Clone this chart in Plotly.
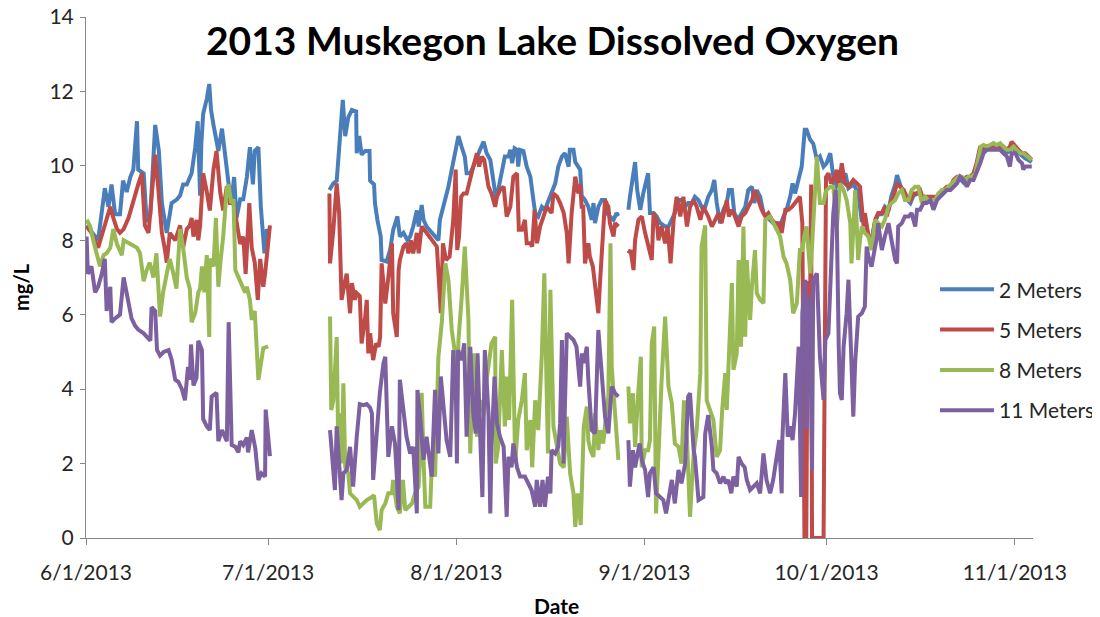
"""2013 Muskegon Lake dissolved oxygen at four depths (Excel-style line chart)."""

import pandas as pd
import plotly.graph_objects as go

START = pd.Timestamp("2013-06-01")
END = pd.Timestamp("2013-11-04")

# readings as (days after 6/1/2013, mg/L); the buoy record has three deployments
m2_jun = [
    (0.1, 8.4), (2.0, 8.0), (3.1, 9.4), (3.7, 8.9), (4.2, 9.5), (4.8, 8.7), (5.6, 8.7),
    (6.1, 9.6), (6.7, 9.3), (7.3, 9.7), (7.8, 9.9), (8.4, 11.2), (8.6, 9.9), (9.5, 9.8),
    (10.0, 8.5), (10.6, 8.7), (11.4, 11.1), (12.0, 10.4), (12.5, 9.0), (13.3, 8.2),
    (14.1, 9.0), (15.0, 9.1), (15.5, 9.2), (16.0, 9.5), (16.6, 9.5), (17.4, 9.8),
    (18.0, 10.5), (18.4, 11.2), (18.8, 9.2), (19.0, 10.6), (19.3, 11.4), (19.9, 11.8),
    (20.3, 12.2), (20.6, 11.5), (21.0, 11.1), (21.5, 10.6), (21.8, 10.4), (22.4, 11.0),
    (22.9, 10.2), (23.5, 9.5), (24.0, 9.1), (24.4, 9.7), (24.8, 8.6), (25.4, 9.1),
    (25.9, 9.1), (26.5, 9.7), (27.0, 10.5), (27.5, 9.5), (27.8, 10.4), (28.4, 10.5),
    (28.8, 8.9), (29.4, 7.65), (29.8, 8.3), (30.0, 8.2),
]
m2_jul = [
    (40.1, 9.35), (40.75, 9.53), (41.3, 9.6), (41.85, 10.97), (42.3, 11.77), (42.7, 10.8),
    (43.2, 11.3), (43.8, 11.5), (44.5, 11.46), (44.6, 10.34), (45.0, 10.8), (45.4, 10.3),
    (46.0, 10.4), (46.7, 10.4), (46.8, 9.6), (47.45, 9.5), (47.6, 9.0), (48.0, 8.55),
    (48.55, 8.1), (48.7, 7.47), (49.5, 7.43), (50.1, 7.74), (50.6, 8.28), (51.3, 8.64),
    (51.7, 8.1), (52.3, 8.2), (52.95, 8.0), (53.4, 8.1), (53.9, 8.37), (54.5, 8.8),
    (54.8, 8.37), (55.3, 8.95), (55.6, 8.55), (56.1, 8.37), (56.95, 8.2), (57.5, 8.1),
    (58.05, 8.0), (58.3, 8.55), (59.2, 9.1), (59.7, 9.44), (60.25, 9.9), (60.8, 10.34),
    (61.35, 10.8), (61.9, 10.5), (62.4, 10.25), (62.7, 9.8), (63.3, 9.8), (63.8, 9.98),
    (64.4, 10.25), (64.9, 10.43), (65.5, 10.65), (66.0, 10.34), (66.6, 10.16), (67.1, 9.53),
    (67.5, 9.17), (67.9, 9.35), (68.5, 9.8), (69.0, 10.25), (69.6, 10.25), (69.9, 10.43),
    (70.2, 10.07), (70.6, 10.47), (71.0, 10.43), (71.2, 9.98), (71.5, 10.43), (72.05, 10.4),
    (72.6, 9.98), (73.2, 9.71), (73.7, 9.08), (74.0, 8.73), (74.5, 8.64), (75.1, 8.9),
    (75.6, 8.82), (76.2, 9.08), (76.7, 9.26), (77.3, 9.53), (77.8, 9.98), (78.4, 10.25),
    (78.9, 10.34), (79.5, 9.98), (79.7, 10.43), (80.3, 10.43), (80.6, 10.1), (81.1, 9.98),
    (81.4, 9.9), (81.65, 9.2), (82.2, 9.08), (82.75, 8.9), (83.3, 8.55), (83.6, 9.0),
    (83.85, 8.46), (84.4, 8.9), (84.95, 9.08), (85.5, 9.08), (85.8, 8.73), (86.3, 8.64),
    (86.9, 8.55), (87.4, 8.73), (87.7, 8.65),
]
m2_sep = [
    (89.35, 8.82), (89.6, 9.17), (90.45, 10.1), (90.8, 9.35), (91.3, 8.82), (91.8, 9.26),
    (92.6, 9.8), (92.9, 8.73), (93.5, 8.73), (94.0, 8.64), (94.6, 8.46), (95.4, 8.37),
    (95.95, 8.37), (96.5, 8.55), (97.0, 8.73), (97.6, 9.08), (98.1, 9.08), (98.7, 8.9),
    (99.2, 9.0), (99.8, 9.0), (100.3, 9.17), (100.9, 9.08), (101.4, 8.9), (102.0, 8.9),
    (102.5, 9.17), (103.1, 9.35), (103.5, 9.62), (103.9, 9.0), (104.45, 8.46), (105.0, 8.82),
    (105.55, 9.0), (105.9, 9.35), (106.4, 9.35), (106.8, 8.73), (107.4, 8.55), (108.0, 8.73),
    (108.6, 8.9), (109.1, 9.35), (109.7, 9.44), (110.1, 9.0), (110.5, 9.35), (111.05, 9.17),
    (111.6, 8.73), (112.1, 8.64), (112.7, 8.55), (113.2, 8.46), (113.8, 8.46), (114.3, 8.37),
    (114.9, 8.64), (115.4, 8.82), (116.0, 9.17), (116.4, 9.53), (116.8, 9.26), (117.4, 9.62),
    (117.9, 9.98), (118.4, 10.97), (118.7, 10.97), (119.3, 10.7), (119.8, 10.6), (120.4, 10.16),
    (120.9, 10.25), (121.5, 9.98), (122.0, 10.07), (122.6, 10.34), (122.9, 9.98), (123.4, 9.35),
    (124.0, 9.71), (124.5, 9.53), (125.1, 9.8), (125.6, 9.4), (126.4, 9.5), (127.2, 9.3),
    (127.8, 8.5), (128.3, 8.6), (128.9, 8.1), (129.4, 7.95), (130.0, 8.5), (130.5, 8.7),
    (131.1, 8.7), (131.6, 8.9), (132.2, 8.8), (132.7, 9.2), (133.3, 9.5), (133.6, 9.75),
    (134.1, 9.5), (134.7, 9.3), (135.2, 9.1), (135.8, 9.0), (136.3, 9.2), (136.9, 9.25),
    (137.4, 9.3), (137.96, 9.0), (138.5, 9.1), (139.1, 9.05), (139.6, 9.05), (140.2, 9.1),
    (140.7, 9.2), (141.3, 9.3), (141.8, 9.4), (142.4, 9.4), (142.9, 9.55), (143.5, 9.65),
    (144.0, 9.65), (144.55, 9.55), (145.1, 9.65), (145.65, 9.65), (146.2, 9.75), (146.7, 10.0),
    (147.3, 10.45), (147.85, 10.4), (148.4, 10.45), (148.9, 10.45), (149.5, 10.5), (150.0, 10.45),
    (150.6, 10.45), (151.1, 10.45), (151.7, 10.35), (152.2, 10.4), (152.5, 10.55), (153.1, 10.4),
    (153.6, 10.35), (154.2, 10.25), (154.7, 10.2), (155.3, 10.15), (155.8, 10.1),
]

m5_jun = [
    (0.1, 8.37), (0.9, 8.2), (2.0, 7.8), (3.1, 8.4), (4.0, 8.9), (4.5, 8.6), (5.1, 8.3),
    (5.6, 8.2), (6.2, 8.3), (7.0, 8.6), (7.8, 9.1), (8.6, 9.5), (9.2, 9.8), (9.7, 8.4),
    (10.3, 8.2), (10.8, 9.1), (11.4, 10.3), (11.9, 9.4), (12.5, 8.2), (13.0, 7.75),
    (13.3, 7.4), (13.8, 8.2), (14.7, 8.0), (15.5, 8.4), (16.0, 7.8), (16.6, 8.3), (17.1, 8.4),
    (17.4, 8.6), (17.7, 8.1), (18.2, 8.55), (18.5, 8.0), (18.8, 8.4), (19.3, 9.8), (19.9, 9.3),
    (20.4, 8.8), (21.0, 9.9), (21.5, 10.4), (22.1, 9.3), (22.6, 8.8), (23.2, 9.45), (23.7, 9.0),
    (24.3, 9.0), (24.8, 8.55), (25.4, 7.9), (25.9, 8.1), (26.3, 7.1), (26.9, 9.0), (27.3, 7.8),
    (27.8, 7.4), (28.3, 6.4), (28.7, 7.5), (29.2, 6.75), (29.5, 7.1), (29.8, 7.65), (30.3, 8.4),
]
m5_jul = [
    (40.1, 9.26), (40.2, 7.38), (40.75, 8.28), (41.3, 9.53), (41.7, 8.73), (42.1, 6.4),
    (42.7, 6.93), (42.95, 7.1), (43.5, 6.04), (43.8, 6.85), (44.3, 6.4), (44.6, 6.58),
    (45.1, 6.5), (45.4, 5.23), (46.0, 5.95), (46.25, 6.4), (46.5, 4.96), (46.8, 5.5),
    (47.3, 4.78), (47.8, 5.23), (48.2, 5.14), (48.45, 5.4), (48.7, 7.38), (49.3, 6.3),
    (49.8, 7.0), (50.4, 7.92), (50.6, 6.04), (51.2, 5.4), (51.5, 7.2), (51.7, 7.47),
    (52.3, 7.83), (52.8, 7.92), (53.1, 7.65), (53.5, 8.0), (53.9, 7.65), (54.5, 8.2),
    (54.8, 7.65), (55.3, 8.37), (56.1, 8.2), (56.95, 8.0), (57.8, 7.83), (58.45, 6.04),
    (58.8, 7.92), (59.3, 7.47), (59.9, 7.56), (60.5, 8.55), (60.9, 9.9), (61.15, 7.74),
    (61.45, 8.1), (61.8, 9.17), (62.2, 9.26), (62.7, 9.26), (63.3, 9.6), (63.8, 9.98),
    (64.4, 10.34), (64.75, 9.98), (65.2, 10.25), (65.6, 10.16), (66.3, 9.44), (66.8, 9.26),
    (67.4, 8.9), (67.7, 9.17), (68.2, 9.35), (68.8, 9.44), (69.3, 8.64), (69.9, 8.9),
    (70.4, 9.71), (71.0, 9.8), (71.3, 8.28), (71.8, 8.28), (72.3, 8.55), (72.6, 7.92),
    (73.2, 7.92), (73.5, 7.83), (73.9, 8.82), (74.3, 7.92), (74.8, 8.37), (75.4, 8.64),
    (75.9, 8.9), (76.7, 8.73), (77.0, 9.26), (77.6, 9.17), (78.1, 9.0), (78.7, 8.73),
    (79.2, 8.2), (79.5, 7.38), (80.0, 8.73), (80.6, 9.71), (81.1, 9.26), (81.4, 9.5),
    (81.65, 8.9), (81.9, 8.9), (82.2, 7.38), (82.75, 7.92), (83.0, 7.56), (83.5, 7.29),
    (84.0, 6.58), (84.4, 6.04), (84.7, 6.93), (85.2, 8.55), (85.5, 9.08), (86.05, 8.9),
    (86.3, 8.46), (86.9, 8.1), (87.15, 8.46), (87.7, 8.37),
]
m5_sep = [
    (89.35, 7.65), (89.7, 7.74), (90.2, 7.2), (90.45, 8.0), (91.0, 8.55), (91.55, 8.64),
    (92.1, 8.2), (92.6, 7.83), (93.2, 7.47), (93.5, 8.73), (94.0, 8.55), (94.3, 8.0),
    (94.8, 8.37), (95.4, 7.92), (95.8, 8.37), (96.3, 7.38), (96.8, 8.55), (97.3, 9.17),
    (97.9, 8.64), (98.4, 9.17), (99.0, 8.37), (99.5, 8.9), (100.1, 9.08), (100.6, 8.9),
    (101.2, 8.55), (101.7, 8.9), (102.3, 8.73), (102.5, 8.64), (103.1, 8.37), (103.6, 8.55),
    (104.2, 8.73), (104.7, 8.46), (105.3, 8.9), (105.55, 9.08), (105.9, 8.64), (106.4, 8.82),
    (106.9, 8.64), (107.5, 8.37), (108.0, 8.64), (108.6, 8.73), (109.1, 8.9), (109.7, 9.08),
    (110.2, 9.35), (110.8, 9.08), (111.3, 8.82), (111.9, 8.64), (112.4, 8.73), (113.0, 8.55),
    (113.5, 8.46), (114.1, 8.46), (114.6, 8.2), (115.2, 8.82), (115.7, 8.82), (116.3, 8.9),
    (116.8, 9.0), (117.6, 9.17), (118.0, 8.46), (118.35, 0.0), (118.65, 0.0), (118.9, 6.9),
    (119.3, 6.6), (119.45, 9.5), (119.6, 0.0), (121.5, 0.0), (121.9, 9.7), (122.3, 9.8),
    (122.75, 9.53), (123.1, 9.62), (123.7, 9.89), (124.0, 9.44), (124.5, 10.07), (124.8, 9.7),
    (125.0, 9.53), (125.6, 9.44), (126.4, 9.62), (127.0, 9.53), (127.5, 9.44), (128.1, 8.37),
    (128.3, 8.73), (128.9, 8.1), (129.4, 8.0), (130.0, 8.55), (130.5, 8.73), (131.1, 8.73),
    (131.6, 8.9), (131.9, 8.64), (132.5, 9.0), (133.0, 9.17), (133.6, 9.53), (134.1, 9.44),
    (134.7, 9.35), (135.2, 9.17), (135.8, 9.08), (136.3, 9.26), (136.9, 9.26), (137.4, 9.35),
    (137.96, 9.08), (138.5, 9.17), (139.1, 9.17), (139.6, 9.17), (140.2, 9.17), (140.7, 9.26),
    (141.3, 9.35), (141.8, 9.44), (142.4, 9.44), (142.9, 9.62), (143.5, 9.71), (144.0, 9.71),
    (144.55, 9.62), (145.1, 9.71), (145.65, 9.71), (146.2, 9.8), (146.7, 10.07), (147.3, 10.52),
    (147.85, 10.43), (148.4, 10.52), (148.9, 10.52), (149.5, 10.56), (150.0, 10.52), (150.6, 10.52),
    (151.1, 10.52), (151.7, 10.43), (152.2, 10.52), (152.5, 10.65), (153.1, 10.52), (153.6, 10.43),
    (154.2, 10.34), (154.7, 10.34), (155.3, 10.25), (155.8, 10.16),
]

m8_jun = [
    (0.1, 8.55), (0.7, 8.37), (1.2, 8.0), (1.8, 7.65), (2.3, 7.3), (2.9, 7.6), (3.4, 7.65),
    (4.0, 7.8), (4.5, 8.3), (5.1, 7.9), (5.9, 7.6), (6.2, 8.0), (6.7, 7.95), (7.5, 7.9),
    (8.4, 7.8), (8.9, 7.65), (9.5, 6.9), (10.0, 7.2), (10.5, 7.4), (11.1, 7.0), (11.6, 7.65),
    (12.2, 5.95), (12.7, 6.6), (13.3, 7.1), (13.8, 7.5), (14.4, 7.1), (14.9, 6.7), (15.5, 8.3),
    (16.0, 7.8), (16.6, 7.0), (17.1, 6.7), (17.4, 5.8), (18.0, 6.05), (18.5, 6.6), (18.8, 6.7),
    (19.1, 7.3), (19.5, 6.6), (19.9, 7.6), (20.3, 5.4), (20.4, 7.5), (21.0, 7.3), (21.4, 8.6),
    (21.8, 6.75), (22.2, 7.5), (22.6, 8.1), (23.2, 9.4), (23.5, 9.5), (23.9, 9.0), (24.3, 9.1),
    (24.6, 7.2), (25.1, 7.0), (25.7, 6.75), (26.2, 6.6), (26.5, 6.75), (27.0, 6.4), (27.3, 5.86),
    (27.8, 6.1), (28.4, 4.25), (28.8, 4.7), (29.2, 5.1), (30.0, 5.15),
]
m8_jul = [
    (40.2, 5.95), (40.4, 3.44), (40.75, 3.7), (41.3, 5.4), (41.6, 1.9), (42.0, 3.35),
    (42.1, 2.0), (42.4, 4.16), (42.7, 1.9), (43.2, 1.74), (43.5, 1.2), (44.0, 1.1),
    (44.6, 1.02), (45.1, 0.84), (45.7, 0.93), (46.25, 1.02), (47.1, 1.1), (47.45, 1.15),
    (47.9, 0.39), (48.4, 0.21), (48.7, 0.75), (49.3, 0.93), (49.8, 1.2), (50.4, 1.2),
    (50.6, 1.56), (51.2, 0.84), (51.7, 0.66), (52.2, 1.56), (52.6, 0.75), (53.1, 0.84),
    (53.7, 0.93), (54.2, 1.2), (54.8, 1.38), (55.0, 2.1), (55.3, 3.9), (55.6, 2.1),
    (55.9, 0.84), (56.4, 0.84), (56.7, 0.84), (57.0, 2.1), (57.2, 1.9), (57.5, 1.65),
    (58.05, 4.87), (58.6, 5.77), (59.2, 7.38), (59.7, 6.93), (60.25, 5.59), (60.8, 4.96),
    (61.1, 3.4), (61.35, 5.3), (61.9, 6.49), (62.4, 7.83), (63.0, 5.86), (63.3, 2.27),
    (63.8, 4.96), (64.4, 2.72), (64.9, 3.7), (65.5, 3.35), (66.0, 4.25), (66.6, 5.14),
    (66.8, 5.23), (67.4, 5.41), (67.5, 2.0), (67.9, 2.45), (68.5, 5.05), (69.0, 3.0),
    (69.3, 4.34), (69.7, 3.17), (70.2, 6.4), (70.7, 2.0), (71.2, 3.17), (71.8, 3.7),
    (72.3, 4.43), (72.6, 2.36), (73.2, 3.17), (73.5, 1.9), (74.0, 3.7), (74.5, 2.9),
    (75.1, 4.96), (75.5, 7.11), (76.1, 2.27), (76.5, 6.67), (77.0, 3.0), (77.6, 2.45),
    (78.1, 2.0), (78.7, 1.9), (79.2, 3.26), (79.75, 1.74), (80.3, 1.2), (80.6, 0.3),
    (81.0, 1.2), (81.5, 0.35), (81.8, 2.0), (82.0, 3.0), (82.5, 3.53), (82.75, 2.63),
    (83.1, 2.36), (83.6, 2.18), (83.85, 3.35), (84.4, 2.36), (84.7, 2.9), (85.2, 2.54),
    (85.7, 3.35), (86.05, 3.8), (86.4, 7.92), (86.6, 4.6), (87.15, 3.35), (87.7, 2.1),
]
m8_sep = [
    (89.35, 4.07), (89.6, 3.08), (90.1, 3.89), (90.45, 2.45), (91.0, 3.98), (91.4, 4.87),
    (91.55, 1.9), (92.1, 2.36), (92.6, 2.36), (92.9, 2.63), (93.2, 5.23), (93.6, 5.68),
    (93.9, 0.66), (94.3, 2.45), (94.8, 4.16), (95.4, 5.95), (95.95, 4.07), (96.5, 3.62),
    (97.0, 2.54), (97.6, 2.45), (98.1, 2.0), (98.5, 3.7), (99.0, 2.63), (99.5, 0.57),
    (100.1, 2.27), (100.6, 2.9), (101.2, 4.43), (101.4, 7.83), (102.0, 8.4), (102.25, 3.7),
    (102.8, 3.44), (103.35, 3.17), (103.9, 2.18), (104.45, 2.36), (104.8, 3.44), (105.3, 4.43),
    (105.55, 3.44), (105.8, 4.43), (106.4, 6.85), (106.65, 4.52), (107.2, 4.96), (107.5, 7.47),
    (107.9, 5.14), (108.3, 8.37), (108.6, 5.41), (108.85, 7.47), (109.4, 5.86), (109.7, 6.76),
    (110.2, 7.74), (110.5, 6.58), (111.05, 6.4), (111.6, 6.31), (111.9, 8.55), (112.7, 8.64),
    (113.5, 8.37), (114.35, 8.1), (114.9, 7.56), (115.4, 7.38), (116.0, 6.94), (116.5, 6.04),
    (117.1, 6.31), (117.6, 7.74), (118.0, 7.74), (118.3, 8.1), (118.7, 8.37), (119.3, 7.11),
    (119.6, 7.83), (120.4, 10.25), (120.9, 9.0), (121.5, 9.0), (121.8, 9.26), (122.0, 9.35),
    (122.6, 9.44), (123.1, 9.44), (123.7, 8.37), (124.2, 9.53), (124.8, 9.35), (125.3, 9.08),
    (125.9, 8.46), (126.1, 7.38), (126.4, 8.28), (126.7, 9.35), (127.0, 8.28), (127.2, 7.47),
    (127.5, 8.0), (127.8, 8.37), (128.3, 8.2), (128.9, 8.1), (129.4, 7.74), (130.0, 8.55),
    (130.5, 8.46), (131.1, 8.37), (131.6, 8.55), (132.2, 8.9), (132.7, 9.0), (133.3, 9.08),
    (133.8, 9.26), (134.4, 9.35), (134.9, 9.08), (135.5, 9.08), (136.0, 9.35), (136.6, 9.44),
    (137.1, 9.44), (137.7, 9.0), (138.2, 9.17), (138.8, 9.08), (139.3, 9.08), (139.9, 9.08),
    (140.4, 9.26), (141.0, 9.35), (141.5, 9.35), (142.1, 9.44), (142.6, 9.53), (143.2, 9.62),
    (143.7, 9.71), (144.3, 9.71), (144.8, 9.62), (145.4, 9.71), (145.9, 9.71), (146.5, 9.8),
    (147.0, 10.16), (147.4, 10.52), (147.85, 10.56), (148.4, 10.52), (148.9, 10.56), (149.5, 10.61),
    (150.0, 10.56), (150.6, 10.61), (151.1, 10.52), (151.7, 10.43), (152.2, 10.43), (152.8, 10.52),
    (153.3, 10.43), (153.9, 10.34), (154.4, 10.34), (155.0, 10.25), (155.8, 10.16),
]

m11_jun = [
    (0.1, 8.1), (0.3, 7.1), (0.9, 7.3), (1.5, 6.6), (2.0, 6.75), (2.6, 7.1), (3.1, 7.5),
    (3.4, 6.1), (4.0, 6.75), (4.2, 5.8), (4.8, 5.9), (5.6, 6.0), (6.2, 7.0), (7.0, 6.4),
    (7.5, 5.9), (8.1, 5.7), (8.6, 5.6), (9.5, 5.5), (10.0, 5.4), (10.6, 5.3), (10.8, 6.2),
    (11.4, 6.1), (11.7, 5.05), (12.2, 4.9), (12.8, 5.0), (13.6, 5.05), (14.1, 4.8),
    (14.7, 4.25), (15.2, 4.2), (15.8, 4.0), (16.3, 3.7), (16.8, 4.6), (17.1, 4.25), (17.3, 5.2),
    (17.7, 4.1), (18.2, 4.3), (18.5, 5.3), (19.1, 5.05), (19.3, 3.2), (19.9, 3.0), (20.4, 2.9),
    (20.7, 3.8), (21.5, 3.9), (21.8, 2.6), (22.4, 2.9), (23.2, 2.6), (23.5, 5.8), (24.0, 2.5),
    (24.6, 2.45), (25.1, 2.3), (25.4, 2.6), (25.9, 2.5), (26.5, 2.7), (26.7, 2.3), (27.3, 2.9),
    (27.9, 2.4), (28.4, 1.56), (28.9, 1.74), (29.5, 1.65), (29.6, 3.45), (30.3, 2.2),
]
m11_jul = [
    (40.2, 2.9), (40.5, 2.18), (41.0, 1.29), (41.3, 3.0), (41.7, 1.9), (42.1, 1.02),
    (42.4, 1.74), (42.95, 1.83), (43.5, 2.45), (43.8, 1.83), (44.0, 1.38), (44.6, 2.72),
    (45.1, 3.6), (45.7, 3.57), (46.25, 3.6), (46.8, 3.5), (47.1, 3.35), (47.3, 1.56),
    (47.9, 2.9), (48.4, 3.89), (49.0, 4.7), (49.3, 4.87), (49.8, 2.18), (50.4, 3.0),
    (50.9, 2.54), (51.5, 0.75), (51.7, 4.25), (52.3, 3.44), (52.8, 2.72), (53.4, 2.27),
    (53.9, 2.45), (54.5, 0.66), (54.6, 3.98), (55.0, 3.35), (55.6, 2.1), (56.1, 2.72),
    (56.4, 2.36), (56.95, 1.65), (57.5, 3.98), (58.05, 2.27), (58.45, 4.34), (58.9, 3.6),
    (59.4, 2.63), (60.0, 2.18), (60.5, 5.05), (60.95, 3.7), (61.1, 2.0), (61.3, 5.05),
    (61.9, 4.78), (62.3, 5.23), (62.7, 2.72), (63.3, 5.14), (63.8, 3.35), (64.2, 2.81),
    (64.5, 4.96), (64.9, 2.9), (65.3, 1.1), (65.7, 5.05), (66.3, 3.35), (66.6, 0.66),
    (66.8, 2.45), (67.3, 4.34), (67.7, 3.08), (68.2, 2.72), (68.8, 2.45), (69.3, 0.57),
    (69.6, 2.18), (70.1, 1.9), (70.4, 2.54), (71.0, 1.9), (71.5, 1.65), (72.3, 1.65),
    (72.9, 1.47), (73.4, 1.29), (74.0, 0.84), (74.25, 1.56), (74.8, 0.84), (75.2, 1.56),
    (75.6, 0.84), (76.1, 1.65), (76.5, 1.2), (76.7, 2.36), (77.3, 2.27), (77.8, 2.45),
    (78.1, 3.08), (78.4, 5.32), (78.65, 2.0), (79.2, 5.5), (79.75, 5.41), (80.3, 5.32),
    (80.8, 5.14), (81.4, 4.07), (81.7, 4.96), (82.0, 4.7), (82.5, 5.14), (82.75, 4.25),
    (83.3, 2.9), (83.85, 2.81), (84.4, 5.59), (84.95, 4.43), (85.5, 3.26), (86.05, 2.81),
    (86.6, 4.07), (87.15, 3.89), (87.7, 3.8),
]
m11_sep = [
    (89.35, 2.63), (89.6, 1.38), (90.1, 2.36), (90.45, 1.9), (91.2, 2.54), (91.55, 2.1),
    (92.1, 1.83), (92.6, 1.1), (92.9, 1.74), (93.5, 1.9), (93.9, 1.2), (94.6, 1.1),
    (95.1, 1.02), (95.55, 0.66), (95.95, 1.1), (96.5, 1.56), (97.0, 0.93), (97.6, 1.83),
    (98.1, 1.47), (98.7, 2.0), (99.2, 3.8), (99.5, 3.89), (100.1, 2.36), (100.3, 2.18),
    (100.9, 1.02), (101.7, 1.1), (102.0, 2.8), (102.5, 3.3), (103.1, 2.45), (103.35, 1.83),
    (103.9, 1.74), (104.45, 1.47), (105.0, 1.65), (105.4, 1.47), (105.8, 1.56), (106.3, 1.2),
    (106.65, 1.65), (107.2, 1.38), (107.5, 2.18), (108.0, 2.0), (108.5, 1.9), (108.85, 1.56),
    (109.4, 1.29), (110.0, 1.38), (110.5, 1.47), (111.05, 1.2), (111.6, 2.27), (112.1, 1.56),
    (112.7, 1.2), (113.2, 1.56), (113.8, 2.27), (114.2, 2.63), (114.6, 1.2), (114.7, 2.63),
    (115.2, 4.43), (115.6, 2.72), (116.0, 3.0), (116.4, 2.63), (116.8, 3.35), (117.4, 5.14),
    (117.8, 1.1), (118.0, 6.04), (118.5, 6.94), (118.7, 2.9), (119.0, 6.49), (119.3, 5.59),
    (119.6, 1.83), (119.8, 6.94), (120.4, 7.11), (120.9, 4.87), (121.5, 3.71), (121.8, 5.32),
    (122.3, 5.5), (122.75, 7.29), (123.1, 8.73), (123.5, 9.35), (123.7, 8.28), (124.0, 5.14),
    (124.2, 3.89), (124.5, 3.71), (124.8, 5.14), (125.3, 6.04), (125.6, 6.94), (126.0, 5.14),
    (126.4, 3.26), (126.7, 4.7), (127.2, 5.95), (127.8, 6.04), (128.3, 6.22), (128.6, 7.83),
    (128.9, 7.56), (129.4, 7.29), (130.0, 7.83), (130.3, 8.1), (130.5, 8.46), (131.1, 7.74),
    (131.6, 8.1), (132.2, 8.46), (132.7, 8.0), (133.3, 7.47), (133.6, 7.38), (133.8, 8.37),
    (134.4, 8.46), (134.9, 8.64), (135.5, 8.64), (136.0, 8.73), (136.6, 8.37), (136.9, 8.82),
    (137.4, 8.82), (137.96, 9.0), (138.5, 9.0), (139.1, 9.08), (139.6, 8.82), (140.2, 9.08),
    (140.7, 9.17), (141.3, 9.26), (141.8, 9.35), (142.4, 9.35), (142.9, 9.44), (143.5, 9.53),
    (144.0, 9.71), (144.55, 9.62), (145.1, 9.44), (145.65, 9.62), (146.2, 9.62), (146.7, 9.8),
    (147.3, 10.07), (147.85, 10.34), (148.4, 10.43), (148.9, 10.43), (149.5, 10.43), (150.0, 10.43),
    (150.6, 10.43), (151.1, 10.34), (151.7, 10.25), (152.2, 9.98), (152.5, 10.34), (153.1, 10.34),
    (153.6, 10.16), (154.2, 10.07), (154.4, 9.9), (154.7, 9.98), (155.3, 9.98), (155.8, 9.98),
]

MONTH_TICKS = ["2013-06-01", "2013-07-01", "2013-08-01", "2013-09-01", "2013-10-01", "2013-11-01"]
MONTH_LABELS = ["6/1/2013", "7/1/2013", "8/1/2013", "9/1/2013", "10/1/2013", "11/1/2013"]

SERIES = [
    ("2 Meters", "#4A7EBB", [m2_jun, m2_jul, m2_sep]),
    ("5 Meters", "#BE4B48", [m5_jun, m5_jul, m5_sep]),
    ("8 Meters", "#98B954", [m8_jun, m8_jul, m8_sep]),
    ("11 Meters", "#7D60A0", [m11_jun, m11_jul, m11_sep]),
]

FONT = "Lato"
AXIS_GRAY = "#868686"


def _to_xy(segments):
    """Join deployments into one x/y pair with None breaks between them."""
    xs, ys = [], []
    for seg in segments:
        if xs:
            xs.append(None)
            ys.append(None)
        for day, val in seg:
            xs.append(START + pd.Timedelta(days=day))
            ys.append(val)
    return xs, ys


fig = go.Figure()
for i, (name, color, segments) in enumerate(SERIES):
    xs, ys = _to_xy(segments)
    fig.add_trace(
        go.Scatter(
            x=xs,
            y=ys,
            mode="lines",
            name=name,
            legendgroup=str(i),
            line={"color": color, "width": 4},
            connectgaps=False,
        )
    )

# the page body adds an 8px margin, so the figure is 8px smaller each way
fig.update_layout(
    width=1092,
    height=609,
    margin={"l": 78, "r": 67, "t": 9, "b": 79, "autoexpand": False},
    paper_bgcolor="white",
    plot_bgcolor="white",
    font={"family": FONT, "size": 21, "color": "#262626"},
    title={
        "text": "<b>2013 Muskegon Lake Dissolved Oxygen</b>",
        "x": 0.4986,
        "xanchor": "center",
        "y": 0.946,
        "yanchor": "middle",
        "font": {"family": FONT, "size": 39, "color": "black"},
    },
    legend={
        "x": 0.8965,
        "xanchor": "left",
        "y": 0.516,
        "yanchor": "top",
        "bgcolor": "rgba(0,0,0,0)",
        "font": {"family": FONT, "size": 21, "color": "#262626"},
        "itemwidth": 54,
        "tracegroupgap": 10,
    },
    xaxis={
        "type": "date",
        "range": [START, END],
        "tickvals": MONTH_TICKS,
        "ticktext": MONTH_LABELS,
        "ticks": "outside",
        "ticklen": 6,
        "tickcolor": AXIS_GRAY,
        "showline": True,
        "linecolor": AXIS_GRAY,
        "linewidth": 1,
        "showgrid": False,
        "zeroline": False,
        "ticklabelstandoff": 10,
        "ticklabeloverflow": "allow",
    },
    yaxis={
        "range": [0, 14],
        "dtick": 2,
        "ticks": "outside",
        "ticklen": 5,
        "tickcolor": AXIS_GRAY,
        "showline": True,
        "linecolor": AXIS_GRAY,
        "linewidth": 1,
        "showgrid": False,
        "zeroline": False,
        "ticklabelstandoff": 2,
        "ticklabeloverflow": "allow",
    },
    annotations=[
        {
            "text": "<b>mg/L</b>",
            "xref": "paper",
            "yref": "paper",
            "x": -0.0686,
            "y": 0.482,
            "xanchor": "center",
            "yanchor": "middle",
            "textangle": -90,
            "showarrow": False,
            "font": {"family": FONT, "size": 20, "color": "black"},
        },
        {
            "text": "<b>Date</b>",
            "xref": "paper",
            "yref": "paper",
            "x": 0.497,
            "y": -0.1286,
            "xanchor": "center",
            "yanchor": "middle",
            "showarrow": False,
            "font": {"family": FONT, "size": 21, "color": "black"},
        },
    ],
)

fig.write_html("out.html")
